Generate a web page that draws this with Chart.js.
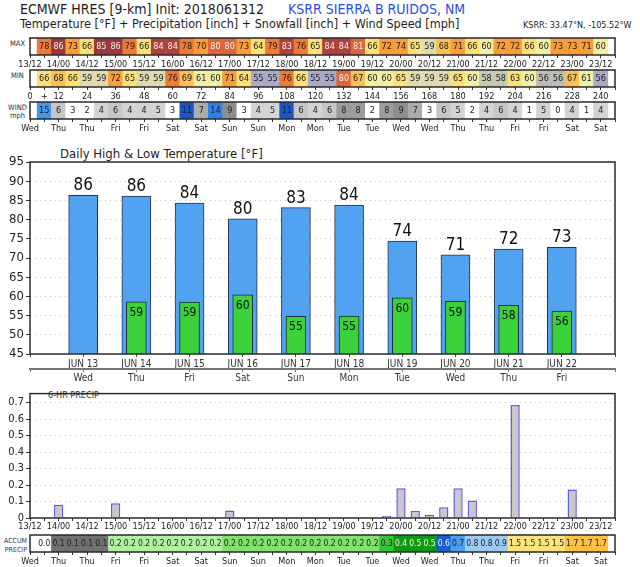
<!DOCTYPE html>
<html>
<head>
<meta charset="utf-8">
<script src="https://cdn.jsdelivr.net/npm/chart.js@4.4.0/dist/chart.umd.min.js"></script>
<style>
body{margin:0;background:#fff;width:640px;height:567px;position:relative;overflow:hidden;font-family:'DejaVu Sans Condensed','DejaVu Sans',sans-serif;color:#1e1e1e}
canvas{position:absolute;left:0}
.t{position:absolute;white-space:nowrap;line-height:1}
</style>
</head>
<body>
<div class="t" style="left:20px;top:2px;font-size:14px">ECMWF HRES [9-km] Init: 2018061312</div>
<div class="t" style="left:288px;top:2px;font-size:14px;color:#2a4ee8">KSRR SIERRA B RUIDOS, NM</div>
<div class="t" style="left:20px;top:18px;font-size:12.5px">Temperature [°F] + Precipitation [inch] + Snowfall [inch] + Wind Speed [mph]</div>
<div class="t" style="left:523px;top:21px;font-size:9px">KSRR: 33.47°N, -105.52°W</div>
<div class="t" style="left:10px;top:40px;font-size:7.5px;color:#333">MAX</div>
<div class="t" style="left:11px;top:72px;font-size:7.5px;color:#333">MIN</div>
<div class="t" style="left:8px;top:104px;font-size:7.5px;color:#333;text-align:center;line-height:8px">WIND<br>mph</div>
<div class="t" style="left:60px;top:147px;font-size:13px">Daily High &amp; Low Temperature [°F]</div>
<div class="t" style="left:48px;top:391px;font-size:9px;color:#333">6-HR PRECIP</div>
<div class="t" style="left:4px;top:537px;width:23px;font-size:7px;color:#333;text-align:right;line-height:9px">ACCUM<br>PRECIP</div>

<canvas id="cMax" width="640" height="33" style="top:37px"></canvas>
<canvas id="cMin" width="640" height="33" style="top:69px"></canvas>
<canvas id="cWind" width="640" height="33" style="top:101px"></canvas>
<canvas id="cTemp" width="640" height="240" style="top:145px"></canvas>
<canvas id="cPrecip" width="640" height="145" style="top:385px"></canvas>
<canvas id="cAccum" width="640" height="33" style="top:534px"></canvas>

<script>
// 6-hourly steps (forecast hour)
const HOURS = [6, 12, 18, 24, 30, 36, 42, 48, 54, 60, 66, 72, 78, 84, 90, 96, 102, 108, 114, 120,
    126, 132, 138, 144, 150, 156, 162, 168, 174, 180, 186, 192, 198, 204, 210, 216, 222, 228, 234, 240];

// tick labels every 12h
const TIME_LABELS = ['13/12', '14/00', '14/12', '15/00', '15/12', '16/00', '16/12', '17/00', '17/12', '18/00', '18/12',
    '19/00', '19/12', '20/00', '20/12', '21/00', '21/12', '22/00', '22/12', '23/00', '23/12'];
const LEAD_LABELS = ['0', '12', '24', '36', '48', '60', '72', '84', '96', '108', '120',
    '132', '144', '156', '168', '180', '192', '204', '216', '228', '240'];
const DAY_LABELS = ['Wed', 'Thu', 'Thu', 'Fri', 'Fri', 'Sat', 'Sat', 'Sun', 'Sun', 'Mon', 'Mon',
    'Tue', 'Tue', 'Wed', 'Wed', 'Thu', 'Thu', 'Fri', 'Fri', 'Sat', 'Sat'];

// strips
const MAX_T = [78, 86, 73, 66, 85, 86, 79, 66, 84, 84, 78, 70, 80, 80, 73, 64, 79, 83, 76, 65,
    84, 84, 81, 66, 72, 74, 65, 59, 68, 71, 66, 60, 72, 72, 66, 60, 73, 73, 71, 60];
const MIN_T = [66, 68, 66, 59, 59, 72, 65, 59, 59, 76, 69, 61, 60, 71, 64, 55, 55, 76, 66, 55,
    55, 80, 67, 60, 60, 65, 59, 59, 59, 65, 60, 58, 58, 63, 60, 56, 56, 67, 61, 55.6];
const WIND = [15, 6, 3, 2, 4, 6, 4, 4, 5, 3, 11, 7, 14, 9, 3, 4, 5, 11, 6, 4,
    6, 8, 8, 2, 8, 9, 7, 3, 6, 5, 2, 4, 6, 4, 1, 5, 0, 4, 1, 4];
const PRECIP = [0, 0.08, 0, 0, 0, 0.09, 0, 0, 0, 0.005, 0, 0, 0.005, 0.045, 0, 0, 0, 0.003, 0, 0,
    0, 0, 0, 0, 0.012, 0.18, 0.044, 0.02, 0.065, 0.18, 0.106, 0, 0, 0.685, 0, 0, 0, 0.173, 0, 0];
const ACCUM = [0, 0.08, 0.08, 0.08, 0.08, 0.17, 0.17, 0.17, 0.17, 0.17, 0.17, 0.17, 0.17, 0.22, 0.22, 0.22, 0.22, 0.22, 0.22, 0.22,
    0.22, 0.22, 0.22, 0.22, 0.27, 0.42, 0.47, 0.49, 0.56, 0.74, 0.84, 0.84, 0.86, 1.54, 1.54, 1.54, 1.54, 1.71, 1.71, 1.71];

// daily high / low
const DATES = ['JUN 13', 'JUN 14', 'JUN 15', 'JUN 16', 'JUN 17', 'JUN 18', 'JUN 19', 'JUN 20', 'JUN 21', 'JUN 22'];
const WEEKDAYS = ['Wed', 'Thu', 'Fri', 'Sat', 'Sun', 'Mon', 'Tue', 'Wed', 'Thu', 'Fri'];
const HIGHS = [86.3, 86.1, 84.3, 80.2, 83.1, 83.8, 74.4, 70.8, 72.3, 72.8];
const LOWS = [null, 58.6, 58.5, 60.4, 54.8, 54.9, 59.6, 58.7, 57.7, 56.2];

const FONT = "'DejaVu Sans Condensed', 'DejaVu Sans', sans-serif";
Chart.defaults.font.family = FONT;
Chart.defaults.animation = false;
Chart.defaults.responsive = false;
Chart.defaults.plugins.legend.display = false;
Chart.defaults.plugins.tooltip.enabled = false;

function tempColor(t) {
    if (t >= 85) return '#9c3838';
    if (t >= 82) return '#b0403a';
    if (t >= 80) return '#e0643a';
    if (t >= 75) return '#f07a34';
    if (t >= 70) return '#fb9c36';
    if (t >= 67) return '#fcc052';
    if (t >= 62) return '#fee074';
    if (t >= 60) return '#f1f0a2';
    if (t >= 59) return '#dcdcac';
    if (t >= 57) return '#c8c8b2';
    if (t >= 55.8) return '#bcbcb6';
    return '#a9a9c9';
}
function windColor(w) {
    if (w >= 15) return '#3f98ea';
    if (w >= 12) return '#2b80ec';
    if (w >= 10) return '#1656c8';
    if (w >= 9) return '#8e8e8e';
    if (w >= 8) return '#9c9c9c';
    if (w >= 7) return '#acacac';
    if (w >= 6) return '#c6c6c6';
    if (w >= 4) return '#d3d3d3';
    return '#ffffff';
}
function accumColor(a) {
    if (a < 0.05) return '#ffffff';
    if (a < 0.15) return '#707070';
    if (a < 0.2) return '#b2f0a2';
    if (a < 0.25) return '#82e26e';
    if (a < 0.35) return '#34c634';
    if (a < 0.55) return '#109a10';
    if (a < 0.65) return '#165fce';
    if (a < 0.75) return '#4c9ff0';
    if (a < 1.0) return '#9ccaf4';
    if (a < 1.6) return '#fde37c';
    return '#fcc042';
}

// box around the plot area
const frame = {
    id: 'frame',
    afterDatasetsDraw(chart) {
        const a = chart.chartArea, ctx = chart.ctx;
        ctx.save();
        ctx.strokeStyle = '#2a2a2a';
        ctx.lineWidth = 1.5;
        ctx.strokeRect(a.left, a.top, a.right - a.left, a.bottom - a.top);
        ctx.restore();
    }
};

function every12(labels) {
    return v => (v % 12 === 0 && labels[v / 12] !== undefined) ? labels[v / 12] : '';
}

function strip(id, values, colorFn, textFn, inkFn, tickFn, fontSize) {
    const cellText = {
        id: 'cellText',
        afterDatasetsDraw(chart) {
            const ctx = chart.ctx, a = chart.chartArea;
            ctx.save();
            ctx.font = fontSize + 'px ' + FONT;
            ctx.textAlign = 'center';
            ctx.textBaseline = 'middle';
            chart.getDatasetMeta(0).data.forEach((bar, i) => {
                ctx.fillStyle = inkFn(values[i]);
                ctx.fillText(textFn(values[i]), bar.x, (a.top + a.bottom) / 2 + 0.5);
            });
            ctx.restore();
        }
    };
    new Chart(document.getElementById(id), {
        type: 'bar',
        data: {
            datasets: [{
                data: HOURS.map(h => ({ x: h, y: 1 })),
                backgroundColor: c => colorFn(values[c.dataIndex]),
                borderWidth: 0,
                categoryPercentage: 1,
                barPercentage: 1,
            }],
        },
        options: {
            layout: { padding: { left: 30, right: 25, top: 1, bottom: 0 } },
            scales: {
                x: {
                    type: 'linear', min: 0, max: 246, offset: false,
                    afterFit: s => { s.height = 15; },
                    grid: { drawOnChartArea: false, offset: false, tickLength: 3, color: '#333' },
                    border: { display: false },
                    ticks: {
                        stepSize: 6, includeBounds: false, autoSkip: false, maxRotation: 0,
                        padding: 1, font: { size: 9 }, color: '#222', callback: tickFn,
                    },
                },
                y: { display: false, min: 0, max: 1 },
            },
        },
        plugins: [frame, cellText],
    });
}

const dark = '#222';
strip('cMax', MAX_T, tempColor, v => String(Math.round(v)), v => v >= 80 ? '#f2f2f2' : dark, every12(TIME_LABELS), 9);
strip('cMin', MIN_T, tempColor, v => String(Math.round(v)), v => v >= 80 ? '#f2f2f2' : dark,
    v => v === 6 ? '+' : every12(LEAD_LABELS)(v), 9);
strip('cWind', WIND, windColor, v => String(v), () => dark, every12(DAY_LABELS), 9);
strip('cAccum', ACCUM, accumColor, v => v.toFixed(1), v => (v >= 0.35 && v < 0.65) ? '#f2f2f2' : dark, every12(DAY_LABELS), 8.5);

// daily high & low bars
const barText = {
    id: 'barText',
    afterDatasetsDraw(chart) {
        const ctx = chart.ctx;
        ctx.save();
        ctx.textAlign = 'center';
        ctx.fillStyle = '#111';
        chart.getDatasetMeta(0).data.forEach((bar, i) => {
            ctx.font = '17px ' + FONT;
            ctx.textBaseline = 'bottom';
            ctx.fillText(String(Math.round(HIGHS[i])), bar.x, bar.y - 1);
        });
        chart.getDatasetMeta(1).data.forEach((bar, i) => {
            if (LOWS[i] === null) return;
            ctx.font = '12px ' + FONT;
            ctx.textBaseline = 'top';
            ctx.fillText(String(Math.round(LOWS[i])), bar.x, bar.y + 5);
        });
        ctx.restore();
    }
};

new Chart(document.getElementById('cTemp'), {
    type: 'bar',
    data: {
        datasets: [
            {
                label: 'High',
                data: HIGHS.map((v, i) => ({ x: i, y: v })),
                backgroundColor: '#52a2f2',
                borderColor: '#28304c',
                borderWidth: 1,
                barThickness: 29,
                grouped: false,
                order: 2,
            },
            {
                label: 'Low',
                data: LOWS.map((v, i) => ({ x: i, y: v })),
                backgroundColor: '#3ad13a',
                borderColor: '#1e2a3a',
                borderWidth: 1,
                barThickness: 20,
                grouped: false,
                order: 1,
            },
        ],
    },
    options: {
        layout: { padding: { left: 0, right: 25, top: 17, bottom: 0 } },
        scales: {
            x: {
                type: 'linear', min: -1, max: 10, weight: 0, offset: false,
                afterFit: s => { s.height = 15; },
                grid: { drawOnChartArea: false, offset: false, tickLength: 3, color: '#444' },
                border: { display: false },
                ticks: {
                    stepSize: 1, includeBounds: false, autoSkip: false, maxRotation: 0, padding: 1,
                    font: { size: 10 }, color: '#333', callback: v => DATES[v] ?? '',
                },
            },
            x2: {
                type: 'linear', position: 'bottom', min: -1, max: 10, weight: 1, offset: false,
                afterFit: s => { s.height = 16; },
                grid: { drawOnChartArea: false, offset: false, tickLength: 3, color: '#777' },
                border: { color: '#777', width: 2 },
                ticks: {
                    stepSize: 1, includeBounds: false, autoSkip: false, maxRotation: 0, padding: 0,
                    font: { size: 10 }, color: '#333', callback: v => WEEKDAYS[v] ?? '',
                },
            },
            y: {
                min: 45, max: 95,
                afterFit: s => { s.width = 30; },
                grid: {
                    color: c => (c.tick.value > 45 && c.tick.value < 95) ? '#c0c0c0' : 'transparent',
                    tickColor: '#333', tickLength: 4,
                },
                border: { display: false, dash: [1, 4] },
                ticks: { stepSize: 5, padding: 2, font: { size: 13 }, color: '#222' },
            },
        },
    },
    plugins: [frame, barText],
});

// 6-hr precip
new Chart(document.getElementById('cPrecip'), {
    type: 'bar',
    data: {
        datasets: [{
            label: '6-HR PRECIP',
            data: HOURS.map((h, i) => ({ x: h, y: PRECIP[i] })),
            backgroundColor: '#c8c8c8',
            borderColor: '#5c5ce8',
            borderWidth: 1.5,
            categoryPercentage: 1,
            barPercentage: 0.65,
        }],
    },
    options: {
        layout: { padding: { left: 0, right: 25, top: 4, bottom: 0 } },
        scales: {
            x: {
                type: 'linear', min: 0, max: 246, offset: false,
                afterFit: s => { s.height = 12; },
                grid: { drawOnChartArea: false, offset: false, tickLength: 3, color: '#333' },
                border: { display: false },
                ticks: {
                    stepSize: 6, includeBounds: false, autoSkip: false, maxRotation: 0, padding: 0,
                    font: { size: 9 }, color: '#222', callback: every12(TIME_LABELS),
                },
            },
            y: {
                min: 0, max: 0.754,
                afterFit: s => { s.width = 30; },
                grid: {
                    color: c => (c.tick.value > 0.001 && c.tick.value < 0.75) ? '#c0c0c0' : 'transparent',
                    tickColor: '#333', tickLength: 4,
                },
                border: { display: false, dash: [1, 4] },
                ticks: {
                    stepSize: 0.1, includeBounds: false, padding: 2, font: { size: 11 }, color: '#222',
                    callback: v => v === 0 ? '0' : v.toFixed(1),
                },
            },
        },
    },
    plugins: [frame],
});
</script>
</body>
</html>
